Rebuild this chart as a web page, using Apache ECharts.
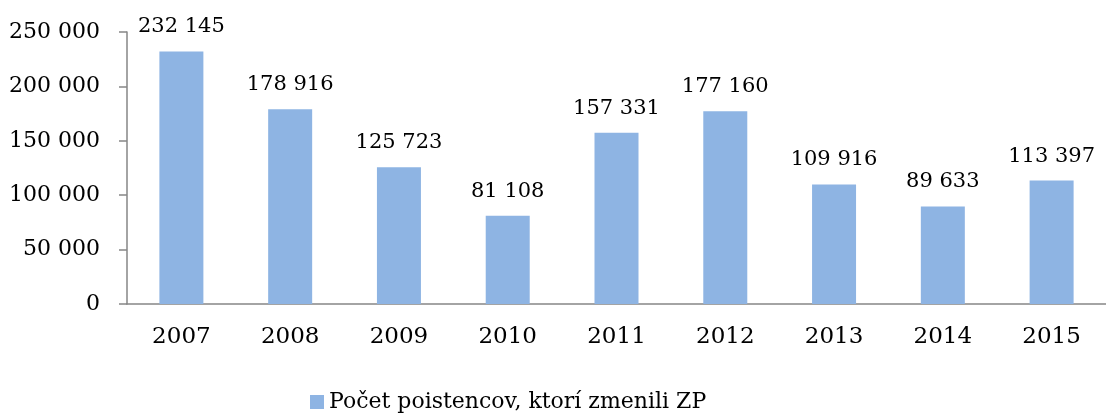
<!DOCTYPE html>
<html>
<head>
<meta charset="utf-8">
<script src="https://cdn.jsdelivr.net/npm/echarts@6/dist/echarts.min.js"></script>
<style>
  html, body { margin: 0; padding: 0; background: #fff; }
  #chart { width: 1106px; height: 415px; }
</style>
</head>
<body>
<div id="chart"></div>
<script>
const years = ['2007', '2008', '2009', '2010', '2011', '2012', '2013', '2014', '2015']
const changed = [232145, 178916, 125723, 81108, 157331, 177160, 109916, 89633, 113397]
const seriesName = 'Počet poistencov, ktorí zmenili ZP'

// 232145 -> "232 145"
const fmt = v => String(v).replace(/\B(?=(\d{3})+(?!\d))/g, ' ')

const font = 'DejaVu Serif'
const chart = echarts.init(document.getElementById('chart'))
chart.setOption({
  animation: false,
  textStyle: { fontFamily: font },
  grid: { left: 127, right: -9, top: 32, bottom: 111 },
  legend: {
    top: 386,
    left: 305,
    icon: 'rect',
    itemWidth: 14,
    itemHeight: 14,
    textStyle: { fontFamily: font, fontSize: 22, color: '#000' },
    data: [seriesName]
  },
  xAxis: {
    type: 'category',
    data: years,
    axisLine: { lineStyle: { color: '#868686', width: 1.5 } },
    axisTick: { length: 8, lineStyle: { color: '#868686', width: 1.5 } },
    axisLabel: { margin: 22, fontSize: 23, color: '#000', fontFamily: font }
  },
  yAxis: {
    type: 'value',
    min: 0,
    max: 250000,
    interval: 50000,
    splitLine: { show: false },
    axisLine: { show: true, lineStyle: { color: '#868686', width: 1.5 } },
    axisTick: { show: true, length: 8, lineStyle: { color: '#868686', width: 1.5 } },
    axisLabel: { margin: 27, fontSize: 22, color: '#000', fontFamily: font, formatter: fmt }
  },
  series: [{
    name: seriesName,
    type: 'bar',
    data: changed,
    barWidth: 44,
    itemStyle: { color: '#8EB4E3' },
    label: {
      show: true,
      position: 'top',
      distance: 14,
      fontSize: 21,
      color: '#000',
      fontFamily: font,
      formatter: p => fmt(p.value)
    }
  }]
})
</script>
</body>
</html>
